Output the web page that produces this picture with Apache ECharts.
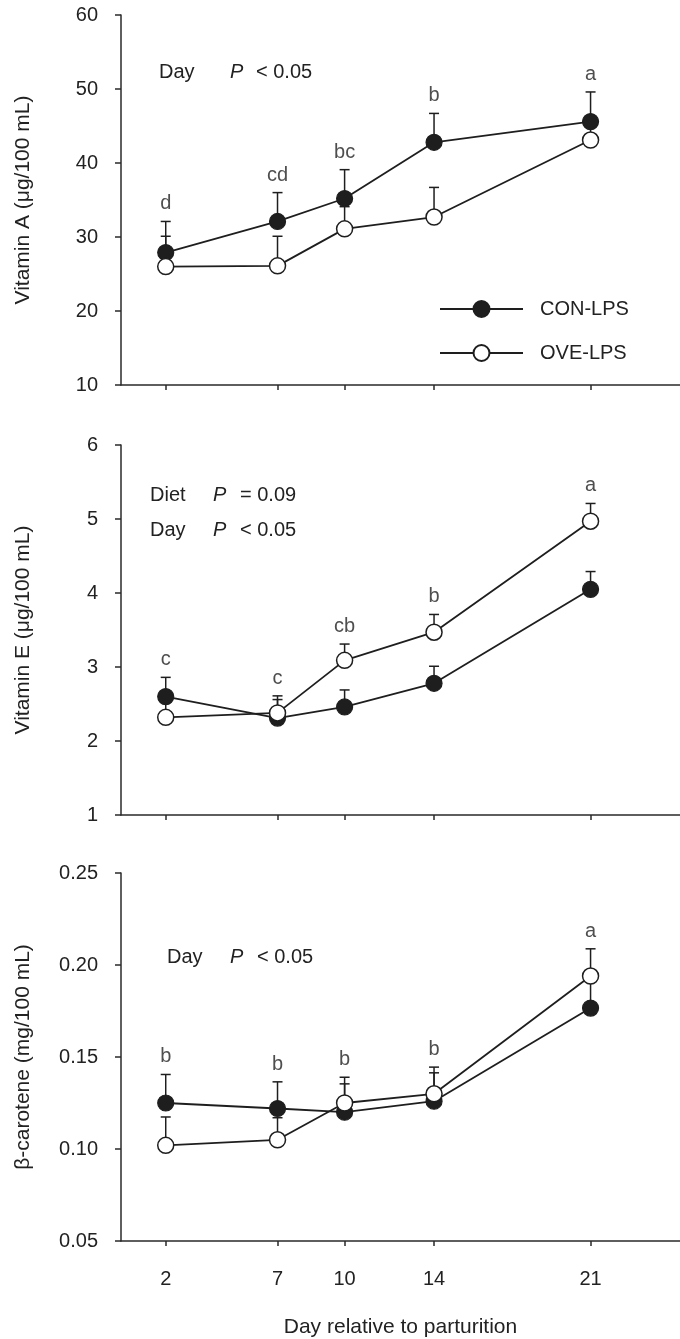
<!DOCTYPE html>
<html>
<head>
<meta charset="utf-8">
<script src="https://cdn.jsdelivr.net/npm/echarts@6/dist/echarts.min.js"></script>
<style>
html,body{margin:0;padding:0;background:#fff;}
#c{width:680px;height:1339px;}
</style>
</head>
<body>
<div id="c"></div>
<script>
// ---- data ----
const days = [2, 7, 10, 14, 21];
const seriesNames = ['CON-LPS', 'OVE-LPS'];

const vitA_con = [27.9, 32.1, 35.2, 42.8, 45.6];
const vitA_con_se = [4.2, 3.9, 3.9, 3.9, 4.0];
const vitA_ove = [26.0, 26.1, 31.1, 32.7, 43.1];
const vitA_ove_se = [4.1, 4.0, 3.0, 4.0, 3.0];
const vitA_letters = ['d', 'cd', 'bc', 'b', 'a'];

const vitE_con = [2.60, 2.31, 2.46, 2.78, 4.05];
const vitE_con_se = [0.26, 0.25, 0.23, 0.23, 0.24];
const vitE_ove = [2.32, 2.38, 3.09, 3.47, 4.97];
const vitE_ove_se = [0.20, 0.23, 0.22, 0.24, 0.24];
const vitE_letters = ['c', 'c', 'cb', 'b', 'a'];

const bc_con = [0.125, 0.122, 0.120, 0.126, 0.1766];
const bc_con_se = [0.0155, 0.0145, 0.0154, 0.0154, 0.015];
const bc_ove = [0.102, 0.105, 0.125, 0.130, 0.194];
const bc_ove_se = [0.0154, 0.012, 0.014, 0.0145, 0.0148];
const bc_letters = ['b', 'b', 'b', 'b', 'a'];

const yTicksA = [10, 60, 10];
const yTicksE = [1, 6, 1];
const yTicksB = [0.05, 0.25, 0.05];

const yNames = ['Vitamin A (\u03bcg/100 mL)', 'Vitamin E (\u03bcg/100 mL)', '\u03b2-carotene (mg/100 mL)'];
const xName = 'Day relative to parturition';

// ---- style ----
const FONT = 'Liberation Sans, Arial, Helvetica, sans-serif';
const INK = '#1e1e1e';
const AX = '#2a2a2a';

const panels = [
  {con: vitA_con, conSe: vitA_con_se, ove: vitA_ove, oveSe: vitA_ove_se, letters: vitA_letters, ticks: yTicksA, top: 15, dec: 0},
  {con: vitE_con, conSe: vitE_con_se, ove: vitE_ove, oveSe: vitE_ove_se, letters: vitE_letters, ticks: yTicksE, top: 445, dec: 0},
  {con: bc_con, conSe: bc_con_se, ove: bc_ove, oveSe: bc_ove_se, letters: bc_letters, ticks: yTicksB, top: 873, dec: 2}
];

const grids = [], xAxes = [], yAxes = [], series = [];

function errRender(params, api) {
  const x = api.value(0), y = api.value(1), e = api.value(2);
  const p0 = api.coord([x, y]);
  const p1 = api.coord([x, y + e]);
  const hw = 5;
  const st = {stroke: INK, lineWidth: 1.5};
  return {type: 'group', children: [
    {type: 'line', shape: {x1: p0[0], y1: p0[1], x2: p1[0], y2: p1[1]}, style: st},
    {type: 'line', shape: {x1: p1[0] - hw, y1: p1[1], x2: p1[0] + hw, y2: p1[1]}, style: st}
  ]};
}

panels.forEach((p, i) => {
  grids.push({left: 121, top: p.top, width: 563, height: 370, containLabel: false});
  const last = i === panels.length - 1;
  xAxes.push({
    type: 'value', gridIndex: i, min: 0, max: 25,
    axisLine: {show: true, onZero: false, lineStyle: {color: AX, width: 1.5}},
    axisTick: {show: true, customValues: days, length: 5, lineStyle: {color: AX, width: 1.5}},
    axisLabel: {show: last, customValues: days, margin: 28, fontSize: 20, color: '#222', fontFamily: FONT},
    splitLine: {show: false},
    name: last ? xName : '', nameLocation: 'middle', nameGap: 76,
    nameTextStyle: {fontSize: 21, color: '#222', fontFamily: FONT}
  });
  yAxes.push({
    type: 'value', gridIndex: i, min: p.ticks[0], max: p.ticks[1], interval: p.ticks[2],
    axisLine: {show: true, lineStyle: {color: AX, width: 1.5}},
    axisTick: {show: true, length: 6, lineStyle: {color: AX, width: 1.5}},
    axisLabel: {margin: 23, fontSize: 20, color: '#222', fontFamily: FONT,
      formatter: v => v.toFixed(p.dec)},
    splitLine: {show: false},
    name: yNames[i], nameLocation: 'middle', nameGap: 87, nameRotate: 90,
    nameTextStyle: {fontSize: 21, color: '#222', fontFamily: FONT}
  });
  const errData = [];
  days.forEach((d, k) => {
    errData.push([d, p.con[k], p.conSe[k]]);
    errData.push([d, p.ove[k], p.oveSe[k]]);
  });
  series.push({
    type: 'custom', xAxisIndex: i, yAxisIndex: i, z: 1, silent: true,
    renderItem: errRender, data: errData, clip: false
  });
  series.push({
    name: seriesNames[0], type: 'line', xAxisIndex: i, yAxisIndex: i, z: 2,
    data: days.map((d, k) => [d, p.con[k]]),
    symbol: 'circle', symbolSize: 16, showAllSymbol: true,
    lineStyle: {color: INK, width: 1.8},
    itemStyle: {color: INK, borderColor: INK, borderWidth: 1.2}
  });
  series.push({
    name: seriesNames[1], type: 'line', xAxisIndex: i, yAxisIndex: i, z: 3,
    data: days.map((d, k) => [d, p.ove[k]]),
    symbol: 'circle', symbolSize: 16, showAllSymbol: true,
    lineStyle: {color: INK, width: 1.8},
    itemStyle: {color: '#ffffff', borderColor: INK, borderWidth: 1.5}
  });
  const letters = p.letters;
  series.push({
    type: 'scatter', xAxisIndex: i, yAxisIndex: i, z: 4, silent: true,
    data: days.map((d, k) => [d, Math.max(p.con[k] + p.conSe[k], p.ove[k] + p.oveSe[k])]),
    symbolSize: 1, itemStyle: {color: 'transparent'},
    label: {show: true, position: 'top', distance: 7, fontSize: 20, color: '#222', fontFamily: FONT,
      formatter: q => letters[q.dataIndex]}
  });
});

function txt(x, y, s, italic) {
  return {type: 'text', x: x, y: y, silent: true,
    style: {text: s, fontSize: 20, fontFamily: FONT, fontStyle: italic ? 'italic' : 'normal',
      fill: '#222', verticalAlign: 'middle', align: 'left'}};
}
const graphics = [
  txt(159, 72, 'Day'), txt(230, 72, 'P', true), txt(256, 72, '< 0.05'),
  txt(150, 495, 'Diet'), txt(213, 495, 'P', true), txt(240, 495, '= 0.09'),
  txt(150, 530, 'Day'), txt(213, 530, 'P', true), txt(240, 530, '< 0.05'),
  txt(167, 957, 'Day'), txt(230, 957, 'P', true), txt(257, 957, '< 0.05')
];

const chart = echarts.init(document.getElementById('c'), null, {renderer: 'canvas'});
chart.setOption({
  animation: false,
  backgroundColor: '#ffffff',
  grid: grids, xAxis: xAxes, yAxis: yAxes, series: series,
  legend: {
    data: seriesNames, orient: 'vertical', left: 434, top: 294,
    itemWidth: 83, itemHeight: 20, itemGap: 24,
    textStyle: {fontSize: 20, color: '#222', fontFamily: FONT, padding: [0, 0, 0, 12]},
    selectedMode: false
  },
  graphic: graphics
});
</script>
</body>
</html>
